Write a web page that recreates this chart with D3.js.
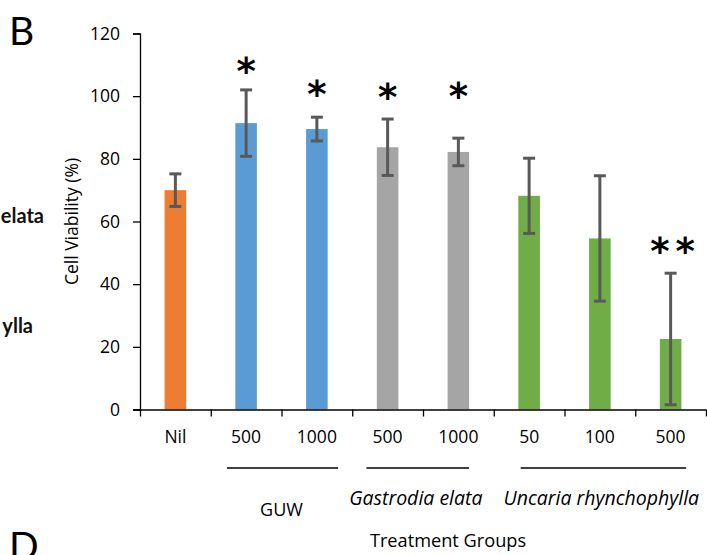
<!DOCTYPE html>
<html>
<head>
<meta charset="utf-8">
<script src="https://cdn.jsdelivr.net/npm/d3@7"></script>
<style>
  body { margin: 0; background: #fff; }
  svg { display: block; font-family: "Open Sans", sans-serif; }
</style>
</head>
<body>
<div id="chart"></div>
<script>
// Cell viability per treatment group (panel B)
const doseLabels = ["Nil", "500", "1000", "500", "1000", "50", "100", "500"];
const groupOf    = ["nil", "GUW", "GUW", "GE", "GE", "UR", "UR", "UR"];
const viability  = [70.0, 91.4, 89.5, 83.7, 82.2, 68.2, 54.6, 22.5];
const errors     = [5.2, 10.6, 3.8, 9.0, 4.4, 12.0, 20.0, 21.0];
const starMarks  = ["", "*", "*", "*", "*", "", "", "**"];
const starLevel  = [0, 109.0, 101.7, 100.6, 101.0, 0, 0, 51.6];
const yTicks     = [0, 20, 40, 60, 80, 100, 120];

// group underline spans and label centres, in category units
const groups = [
    {name: "GUW", from: 1.23, to: 2.8, at: 2.0, italic: false},
    {name: "Gastrodia elata", from: 3.2, to: 4.65, at: 3.9, italic: true},
    {name: "Uncaria rhynchophylla", from: 5.38, to: 7.72, at: 6.52, italic: true}
];

const colors = {nil: "#ED7D31", GUW: "#5B9BD5", GE: "#A5A5A5", UR: "#70AD47"};

const width = 707, height = 555;
const margin = {left: 140, top: 33.5, right: 1, bottom: 145};
const plotW = width - margin.left - margin.right;
const plotH = height - margin.top - margin.bottom - 0.5;

const svg = d3.select("#chart").append("svg")
    .attr("width", width)
    .attr("height", height);

// neighbouring panel fragments
svg.append("text").attr("x", 9).attr("y", 45).attr("font-size", 39)
   .attr("font-family", "Lato, sans-serif").text("B");
svg.append("text").attr("x", 9).attr("y", 560).attr("font-size", 39)
   .attr("font-family", "Lato, sans-serif").text("D");
svg.append("text").attr("x", 44).attr("y", 223).attr("font-size", 20)
   .attr("font-family", "Lato, sans-serif").attr("font-weight", "bold")
   .attr("text-anchor", "end").attr("fill", "#111").text("elata");
svg.append("text").attr("x", 33).attr("y", 333).attr("font-size", 20)
   .attr("font-family", "Lato, sans-serif").attr("font-weight", "bold")
   .attr("text-anchor", "end").attr("fill", "#111").text("ylla");

const g = svg.append("g")
    .attr("transform", "translate(" + margin.left + "," + margin.top + ")");

const idx = d3.range(doseLabels.length);

const xBand = d3.scaleBand()
    .domain(idx)
    .range([0, plotW])
    .padding(0);

const xUnit = d3.scaleLinear()
    .domain([0, doseLabels.length])
    .range([0, plotW]);

const yScale = d3.scaleLinear()
    .domain([0, 120])
    .range([plotH, 0]);

const mid = i => xBand(i) + xBand.bandwidth() / 2;

// Y axis
const yAxis = g.append("g")
    .call(d3.axisLeft(yScale).tickValues(yTicks).tickSize(7).tickPadding(13));
yAxis.select(".domain").attr("stroke", "#000").attr("stroke-width", 1.3);
yAxis.selectAll(".tick line").attr("stroke", "#000").attr("stroke-width", 1.3);
yAxis.selectAll(".tick text").attr("font-size", 17.5).attr("fill", "#000")
     .attr("font-family", "'Open Sans', sans-serif");

// Bars
const barW = xBand.bandwidth() * 0.305;
g.selectAll(".bar")
    .data(idx)
    .enter()
    .append("rect")
    .attr("class", "bar")
    .attr("x", i => mid(i) - barW / 2)
    .attr("width", barW)
    .attr("y", i => yScale(viability[i]))
    .attr("height", i => plotH - yScale(viability[i]))
    .attr("fill", i => colors[groupOf[i]]);

// Error bars
const capW = 12;
const err = g.selectAll(".err").data(idx).enter().append("g").attr("class", "err")
    .attr("stroke", "#595959").attr("stroke-width", 3);
err.append("line")
    .attr("x1", mid).attr("x2", mid)
    .attr("y1", i => yScale(viability[i] + errors[i]))
    .attr("y2", i => yScale(viability[i] - errors[i]));
[1, -1].forEach(function (s) {
    err.append("line")
       .attr("x1", i => mid(i) - capW / 2)
       .attr("x2", i => mid(i) + capW / 2)
       .attr("y1", i => yScale(viability[i] + s * errors[i]))
       .attr("y2", i => yScale(viability[i] + s * errors[i]));
});

// Significance stars
g.selectAll(".star")
    .data(idx.filter(i => starMarks[i] !== ""))
    .enter()
    .append("text")
    .attr("class", "star")
    .attr("x", i => mid(i) + (starMarks[i].length > 1 ? 5 : 0))
    .attr("y", i => yScale(starLevel[i]) + 16)
    .attr("text-anchor", "middle")
    .attr("font-family", "DejaVu Sans, sans-serif")
    .attr("font-weight", "bold")
    .attr("font-size", 37)
    .attr("letter-spacing", i => starMarks[i].length > 1 ? 6 : 0)
    .attr("fill", "#000")
    .text(i => starMarks[i]);

// X axis: boundary ticks and the domain line
const xAxis = g.append("g")
    .attr("transform", "translate(0," + plotH + ")")
    .call(d3.axisBottom(xUnit).ticks(doseLabels.length).tickSize(7).tickFormat(""));
xAxis.select(".domain").attr("stroke", "#000").attr("stroke-width", 1.3)
     .attr("d", "M-6,0.5H" + plotW);
xAxis.selectAll(".tick line").attr("stroke", "#000").attr("stroke-width", 1.3);

// Dose labels
const xLab = g.append("g")
    .attr("transform", "translate(0," + plotH + ")")
    .call(d3.axisBottom(xBand).tickSize(0).tickPadding(21).tickFormat(i => doseLabels[i]));
xLab.select(".domain").remove();
xLab.selectAll(".tick text").attr("font-size", 17.5).attr("fill", "#000")
    .attr("font-family", "'Open Sans', sans-serif");

// Group underlines and names
const lineY = plotH + 58.5;
g.selectAll(".grp-line")
    .data(groups)
    .enter()
    .append("line")
    .attr("x1", d => xUnit(d.from))
    .attr("x2", d => xUnit(d.to))
    .attr("y1", lineY).attr("y2", lineY)
    .attr("stroke", "#000").attr("stroke-width", 1.3);

g.selectAll(".grp-name")
    .data(groups)
    .enter()
    .append("text")
    .attr("x", d => xUnit(d.at))
    .attr("y", d => plotH + (d.italic ? 95 : 106))
    .attr("text-anchor", "middle")
    .attr("font-size", d => d.italic ? 19.5 : 18)
    .attr("font-style", d => d.italic ? "italic" : "normal")
    .attr("fill", "#000")
    .text(d => d.name);

// Axis titles
g.append("text")
    .attr("x", 308)
    .attr("y", plotH + 137)
    .attr("text-anchor", "middle")
    .attr("font-size", 18.2)
    .attr("fill", "#000")
    .text("Treatment Groups");

g.append("text")
    .attr("transform", "translate(-62," + (plotH / 2) + ") rotate(-90)")
    .attr("text-anchor", "middle")
    .attr("font-size", 17.5)
    .attr("fill", "#000")
    .text("Cell Viability (%)");
</script>
</body>
</html>
